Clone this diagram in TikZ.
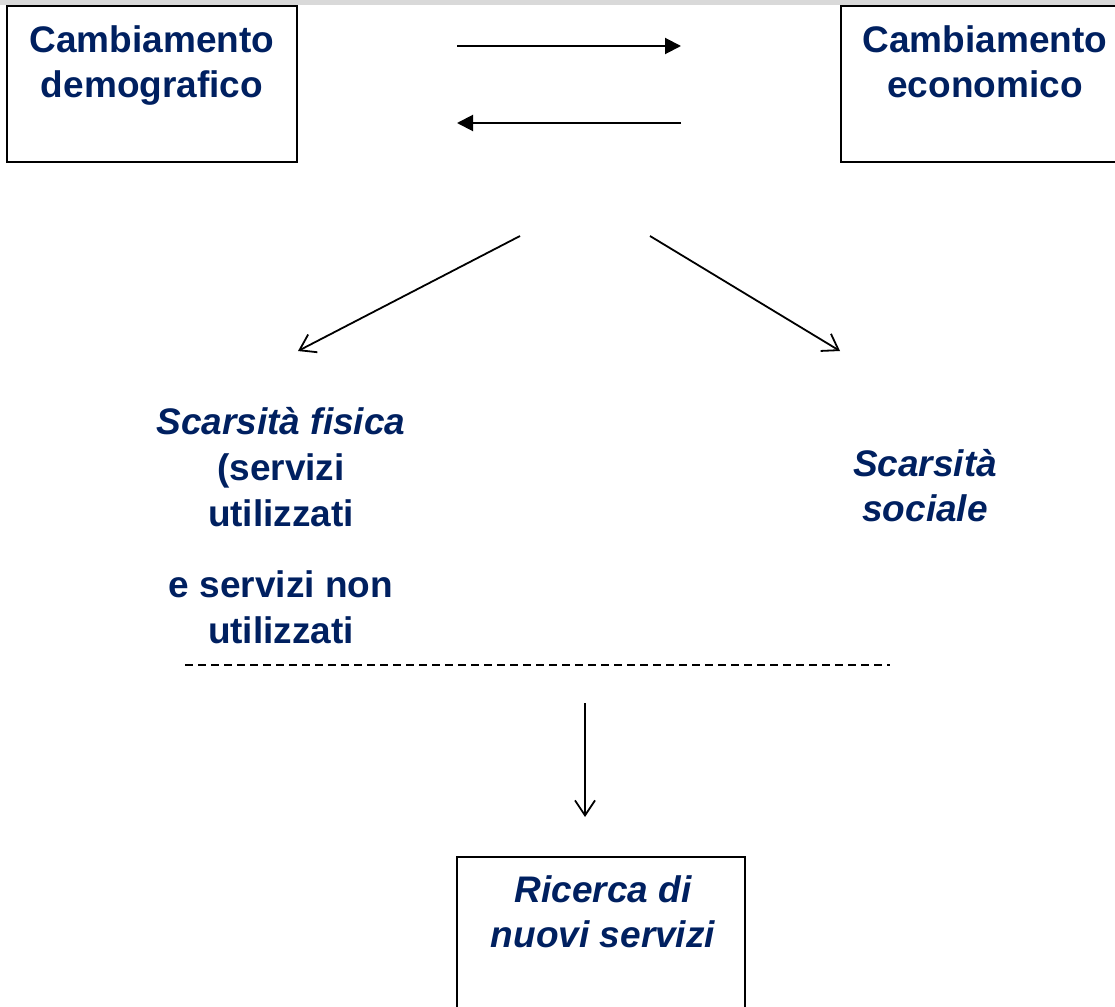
\documentclass[tikz,border=0pt]{standalone}
\usepackage{fontspec}
\setmainfont{Liberation Sans}
\usetikzlibrary{arrows.meta}
\definecolor{navy}{RGB}{0,32,96}
\definecolor{band}{RGB}{217,217,217}
\begin{document}
\begin{tikzpicture}[x=1pt,y=-1pt,
    label/.style={text=navy,font=\bfseries\fontsize{37}{45}\selectfont,align=center,anchor=north,inner sep=0pt},
    frame/.style={line width=1.6pt},
    pusharrow/.style={line width=2pt,-{Triangle[length=16pt,width=16pt]}},
    leadarrow/.style={line width=1.8pt,-{Straight Barb[length=15pt,width=20pt]}}]
    \useasboundingbox (0,0) rectangle (1115,1006);
    \clip (0,0) rectangle (1115,1006);
    \fill[band] (0,0) rectangle (1115,5);

    % the two boxes on top
    \draw[frame] (7,6) rectangle (297,162);
    \node[label] (demo) at (152,25) {Cambiamento\\demografico};
    \draw[frame] (841,6) rectangle (1130,162);
    \node[label] (econ) at (985,25) {Cambiamento\\economico};

    \coordinate (ta) at (457,46);
    \coordinate (tb) at (681,46);
    \coordinate (ba) at (681,123);
    \coordinate (bb) at (457,123);
    \draw[pusharrow] (ta) -- (tb);
    \draw[pusharrow] (ba) -- (bb);

    % the two scarcities
    \node[label,font=\bfseries\fontsize{37}{46}\selectfont] (fisica) at (281,407)
        {\textit{Scarsità fisica}\\(servizi\\utilizzati\\[25pt]e servizi non\\utilizzati};
    \node[label,font=\bfseries\itshape\fontsize{37}{45}\selectfont] (sociale) at (925,449) {Scarsità\\sociale};

    \coordinate (la) at (520,236);
    \coordinate (lb) at (298,351);
    \coordinate (ra) at (650,236);
    \coordinate (rb) at (840,351);
    \draw[leadarrow] (la) -- (lb);
    \draw[leadarrow] (ra) -- (rb);

    \coordinate (dl) at (185,665);
    \coordinate (dr) at (890,665);
    \draw[line width=1.6pt,dash pattern=on 8pt off 5pt] (dl) -- (dr);

    % result
    \coordinate (va) at (585,703);
    \coordinate (vb) at (585,817);
    \draw[leadarrow] (va) -- (vb);
    \draw[frame] (457,857) rectangle (745,1030);
    \node[label,font=\bfseries\itshape\fontsize{37}{45}\selectfont] (ricerca) at (603,875) {Ricerca di\\nuovi servizi};
\end{tikzpicture}
\end{document}
